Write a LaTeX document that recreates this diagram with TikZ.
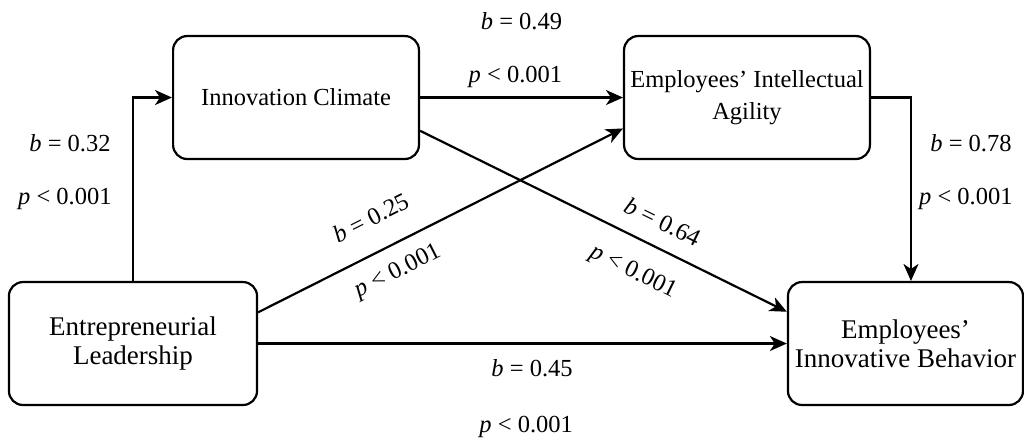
\documentclass[tikz,border=0pt]{standalone}
\usepackage{fontspec}
\setmainfont{Liberation Serif}
\usepackage{tikz}
\usetikzlibrary{arrows.meta}

\begin{document}
\begin{tikzpicture}[
    font=\fontsize{12.25}{14.3}\selectfont,
    box/.style={draw, line width=1.1pt, rounded corners=7pt, align=center,
        minimum height=2.16cm, inner sep=2pt},
    bigbox/.style={box, font=\fontsize{13.5}{14.3}\selectfont},
    link/.style={-{Stealth[length=8.5pt, width=7.5pt, inset=2.5pt]}, line width=1.1pt},
    lbl/.style={inner sep=0pt}
]

% ---- Frame ----
\useasboundingbox (0,0) rectangle (17.995,7.715);

% ---- Constructs ----
\node[bigbox, minimum width=4.36cm] (lead) at (2.337,1.678) {Entrepreneurial\\Leadership};
\node[box, minimum width=4.32cm] (climate) at (5.202,6.001) {Innovation Climate};
\node[box, minimum width=4.32cm] (agility) at (13.127,6.001) {Employees' Intellectual\\[1.5pt]Agility};
\node[bigbox, minimum width=4.13cm] (behavior) at (15.912,1.678) {Employees'\\Innovative Behavior};

% ---- Paths ----
% Leadership -> Climate
\draw[link] (lead.north) |- (climate.west);
\node[lbl, anchor=east] (b-lc) at (1.951,5.202) {\textit{b} = 0.32};
\node[lbl, anchor=east] (p-lc) at (1.968,4.215) {\textit{p} < 0.001};

% Climate -> Agility
\draw[link] (climate.east) -- (agility.west)
    node[lbl, pos=0.5, above=33.5pt] (b-ca) {\textit{b} = 0.49}
    node[lbl, pos=0.47, above=4.5pt] (p-ca) {\textit{p} < 0.001};

% Agility -> Behavior
\draw[link] (agility.east) -| ([xshift=2.75pt]behavior.north);
\node[lbl, anchor=east] (b-ab) at (17.784,5.202) {\textit{b} = 0.78};
\node[lbl, anchor=east] (p-ab) at (17.801,4.215) {\textit{p} < 0.001};

% Leadership -> Agility
\draw[link] (lead.14) -- (agility.194)
    node[lbl, sloped, pos=0.35, above=12pt] (b-la) {\textit{b} = 0.25}
    node[lbl, sloped, pos=0.35, below=7.5pt] (p-la) {\textit{p} < 0.001};

% Climate -> Behavior
\draw[link] (climate.345) -- (behavior.165)
    node[lbl, sloped, pos=0.63, above=8pt] (b-cb) {\textit{b} = 0.64}
    node[lbl, sloped, pos=0.62, below=10.5pt] (p-cb) {\textit{p} < 0.001};

% Leadership -> Behavior
\draw[link] (lead.east) -- (behavior.west)
    node[lbl, pos=0.518, below=7.4pt] (b-lb) {\textit{b} = 0.45}
    node[lbl, pos=0.507, below=36pt] (p-lb) {\textit{p} < 0.001};

\end{tikzpicture}
\end{document}
